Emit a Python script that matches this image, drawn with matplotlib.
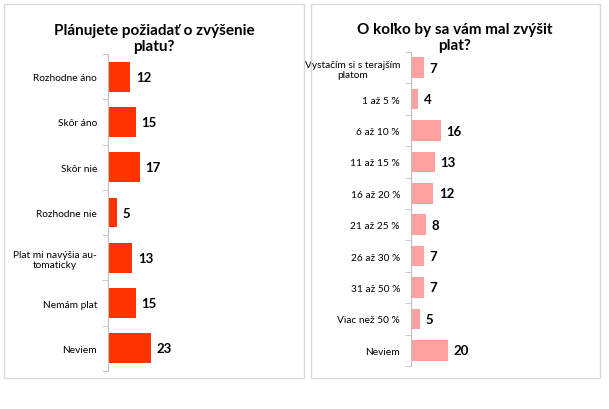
import matplotlib; matplotlib.use("Agg")
import matplotlib.pyplot as plt
from matplotlib.patches import Rectangle
from matplotlib.ticker import FixedLocator

plt.rcParams['font.family'] = ['Lato', 'DejaVu Sans']

W, H = 609, 410
title_l = "Plánujete požiadať o zvýšenie\nplatu?"
cats_l = ["Rozhodne áno", "Skôr áno", "Skôr nie", "Rozhodne nie",
          "Plat mi navýšia au-\ntomaticky", "Nemám plat", "Neviem"]
vals_l = [12, 15, 17, 5, 13, 15, 23]

title_r = "O koľko by sa vám mal zvýšit\nplat?"
cats_r = ["Vystačím si s terajším\nplatom", "1 až 5 %", "6 až 10 %", "11 až 15 %",
          "16 až 20 %", "21 až 25 %", "26 až 30 %", "31 až 50 %", "Viac než 50 %", "Neviem"]
vals_r = [7, 4, 16, 13, 12, 8, 7, 7, 5, 20]

fig = plt.figure(figsize=(W/100, H/100), dpi=100)

def px_axes(x0, y0, x1, y1):
    return fig.add_axes([x0/W, 1-y1/H, (x1-x0)/W, (y1-y0)/H])

def frame(x0, y0, x1, y1):
    fig.patches.append(Rectangle((x0/W, 1-y1/H), (x1-x0)/W, (y1-y0)/H, transform=fig.transFigure,
                                 fill=False, ec="#d9d9d9", lw=1))

def panel(ax, cats, vals, color):
    n = len(cats)
    y = list(range(n))
    ax.barh(y, vals, height=0.66, color=color)
    ax.set_ylim(n-0.5, -0.5); ax.set_xlim(0, 100)
    ax.set_yticks(y); ax.set_yticklabels(cats, fontsize=7.3, ha="right", multialignment="center")
    ax.tick_params(axis="y", which="major", length=0, pad=8)
    ax.yaxis.set_minor_locator(FixedLocator([i-0.5 for i in range(n+1)]))
    ax.tick_params(axis="y", which="minor", length=4, color="#bfbfbf")
    ax.set_xticks([])
    for s in ["top", "right", "bottom"]: ax.spines[s].set_visible(False)
    ax.spines["left"].set_color("#bfbfbf")
    ax.patch.set_alpha(0)
    for yi, v in zip(y, vals):
        ax.text(v+3, yi, str(v), va="center", ha="left", fontsize=9.5, fontweight="bold")

frame(4, 5, 304, 379)
frame(311, 5, 600, 379)

axl = px_axes(108, 55, 295, 372)
panel(axl, cats_l, vals_l, "#ff3300")
fig.text(154/W, 1-39/H, title_l, ha="center", va="center", fontsize=11, fontweight="bold", linespacing=1.2)

axr = px_axes(411, 53, 596, 367)
panel(axr, cats_r, vals_r, "#ffa0a0")
fig.text(455/W, 1-38/H, title_r, ha="center", va="center", fontsize=11, fontweight="bold", linespacing=1.2)

fig.savefig("out.png", dpi=100)
